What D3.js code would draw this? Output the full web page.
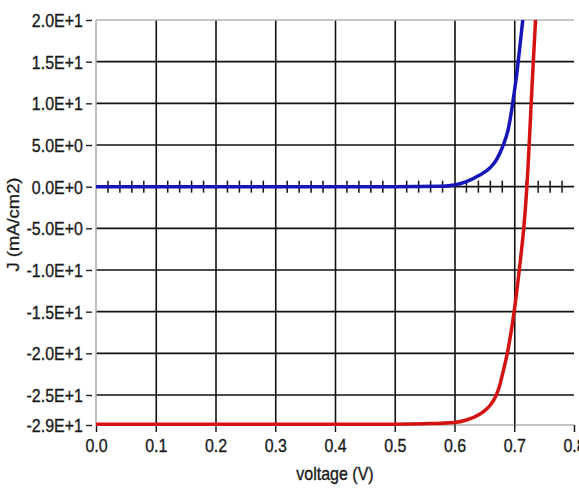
<!DOCTYPE html>
<html>
<head>
<meta charset="utf-8">
<script src="https://cdn.jsdelivr.net/npm/d3@7"></script>
<style>
  body { margin: 0; background: #fff; }
  text { font-family: Arial, "Liberation Sans", sans-serif; fill: #1a1a1a; stroke: #1a1a1a; stroke-width: 0.3px; }
</style>
</head>
<body>
<div id="jv-chart"></div>
<script>
// axis ticks
var xTicks = [0.0, 0.1, 0.2, 0.3, 0.4, 0.5, 0.6, 0.7, 0.8];
var yTicks = [20, 15, 10, 5, 0, -5, -10, -15, -20, -25, -28.6];
var minorTicks = [0.02, 0.04, 0.06, 0.08, 0.12, 0.14, 0.16, 0.18, 0.22, 0.24, 0.26, 0.28,
    0.32, 0.34, 0.36, 0.38, 0.42, 0.44, 0.46, 0.48, 0.52, 0.54, 0.56, 0.58,
    0.62, 0.64, 0.66, 0.68, 0.72, 0.74, 0.76, 0.78];

// dark curve (blue)
var darkV = [0.0, 0.1, 0.2, 0.3, 0.4, 0.5, 0.58, 0.6, 0.62, 0.64, 0.66, 0.67, 0.68, 0.69, 0.7, 0.705, 0.71, 0.715];
var darkJ = [0, 0, 0, 0, 0, 0, 0.05, 0.2, 0.6, 1.3, 2.3, 3.2, 4.7, 6.9, 11.3, 14.0, 17.2, 20.5];

// light curve (red)
var lightV = [0.0, 0.1, 0.2, 0.3, 0.4, 0.5, 0.55, 0.6, 0.62, 0.64, 0.65, 0.66, 0.67, 0.675, 0.68, 0.69, 0.7, 0.71, 0.716, 0.722, 0.725, 0.73, 0.736];
var lightJ = [-28.5, -28.5, -28.5, -28.5, -28.5, -28.5, -28.45, -28.3, -28.0, -27.4, -26.9, -26.2, -25.0, -24.0, -22.6, -19.4, -14.9, -9.0, -4.9, 1.0, 5.1, 12.4, 20.5];

var margin = {top: 20, right: 5, bottom: 65, left: 96},
    width = 579 - margin.left - margin.right,
    height = 490 - margin.top - margin.bottom;

var svg = d3.select("#jv-chart")
    .append("svg")
    .attr("width", 579)
    .attr("height", 490)
    .append("g")
    .attr("transform", "translate(" + margin.left + "," + margin.top + ")");

var x = d3.scaleLinear().domain([0, 0.8]).range([0, width]);
var y = d3.scaleLinear().domain([-28.6, 20]).range([height, 0]);

// text in the picture is a bit stretched vertically
var stretch = 1.15;

// horizontal grid
svg.append("g")
    .selectAll("line")
    .data(yTicks.filter(function (d) { return d < 20 && d > -28; }))
    .enter()
    .append("line")
    .attr("x1", 0)
    .attr("x2", width)
    .attr("y1", function (d) { return y(d); })
    .attr("y2", function (d) { return y(d); })
    .attr("stroke", "#111")
    .attr("stroke-width", 1.6);

// vertical grid
svg.append("g")
    .attr("transform", "translate(0," + height + ")")
    .call(d3.axisBottom(x).tickValues(xTicks.filter(function (d) { return d > 0 && d < 0.75; }))
        .tickSize(height).tickSizeOuter(0).tickFormat(""))
    .call(function (g) { g.select(".domain").remove(); })
    .selectAll(".tick line")
    .attr("y1", 0)
    .attr("y2", -height)
    .attr("stroke", "#111")
    .attr("stroke-width", 1.6);

// frame (left + top + bottom, gray)
svg.append("line").attr("x1", 0).attr("x2", 0).attr("y1", 0).attr("y2", height)
    .attr("stroke", "#a8a8a8").attr("stroke-width", 1.5);
svg.append("line").attr("x1", 0).attr("x2", width).attr("y1", 0).attr("y2", 0)
    .attr("stroke", "#b5b5b5").attr("stroke-width", 1.5);
svg.append("line").attr("x1", 0).attr("x2", width).attr("y1", height).attr("y2", height)
    .attr("stroke", "#888").attr("stroke-width", 1.2);

// x axis
var xAxis = svg.append("g")
    .attr("transform", "translate(0," + height + ")")
    .call(d3.axisBottom(x).tickValues(xTicks).tickSize(7).tickSizeOuter(0)
        .tickFormat(function (d) { return d.toFixed(1); }));
xAxis.select(".domain").remove();
xAxis.selectAll(".tick line").attr("stroke", "#111").attr("stroke-width", 1.4);
xAxis.selectAll(".tick text")
    .attr("y", 0)
    .attr("dy", 0)
    .attr("font-size", "16px")
    .attr("transform", "translate(0,27) scale(1," + stretch + ")");

// y axis
var yAxis = svg.append("g")
    .call(d3.axisLeft(y).tickValues(yTicks).tickSize(10).tickSizeOuter(0)
        .tickFormat(function (d) { return d.toExponential(1).toUpperCase(); }));
yAxis.select(".domain").remove();
yAxis.selectAll(".tick line").attr("x1", -4).attr("stroke", "#222").attr("stroke-width", 1.4);
yAxis.selectAll(".tick text")
    .attr("x", 0)
    .attr("dy", "0.35em")
    .attr("font-size", "16px")
    .attr("transform", "translate(-13,0) scale(1," + stretch + ")");

// small ticks along J = 0
svg.append("g")
    .selectAll("line")
    .data(minorTicks)
    .enter()
    .append("line")
    .attr("x1", function (d) { return x(d); })
    .attr("x2", function (d) { return x(d); })
    .attr("y1", y(0) - 6)
    .attr("y2", y(0) + 6)
    .attr("stroke", "#111")
    .attr("stroke-width", 1.5);

// curves, clipped to plot area
svg.append("clipPath")
    .attr("id", "plot-clip")
    .append("rect")
    .attr("x", 0).attr("y", 0)
    .attr("width", width).attr("height", height + 2);

var line = d3.line()
    .x(function (d) { return x(d[0]); })
    .y(function (d) { return y(d[1]); })
    .curve(d3.curveMonotoneX);

svg.append("path")
    .datum(d3.zip(darkV, darkJ))
    .attr("clip-path", "url(#plot-clip)")
    .attr("fill", "none")
    .attr("stroke", "#1515b8")
    .attr("stroke-width", 3.5)
    .attr("d", line);

svg.append("path")
    .datum(d3.zip(lightV, lightJ))
    .attr("clip-path", "url(#plot-clip)")
    .attr("fill", "none")
    .attr("stroke", "#d41212")
    .attr("stroke-width", 3.5)
    .attr("d", line);

// axis labels
svg.append("text")
    .attr("text-anchor", "middle")
    .attr("font-size", "16px")
    .attr("transform", "translate(" + (width / 2) + "," + (height + 55) + ") scale(1," + stretch + ")")
    .text("voltage (V)");

svg.append("text")
    .attr("text-anchor", "middle")
    .attr("font-size", "16px")
    .attr("transform", "translate(" + (-margin.left + 19) + "," + (height / 2 + 2) + ") scale(1," + stretch + ") rotate(-90)")
    .text("J (mA/cm2)");
</script>
</body>
</html>
